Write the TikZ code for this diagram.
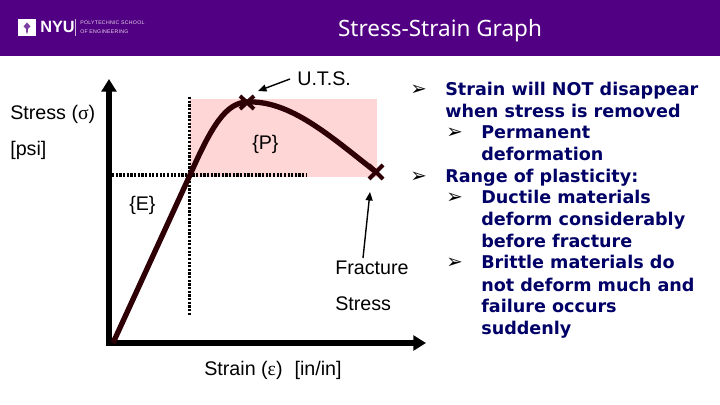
\documentclass[tikz,border=0pt]{standalone}
\usepackage{fontspec}
\setmainfont{Liberation Sans}
\newfontfamily\titlefont{Noto Sans}
\newfontfamily\bodyfont{DejaVu Sans}
\newfontfamily\greekfont{Liberation Serif}
\newfontfamily\logofont[LetterSpace=5]{Liberation Sans}
\usetikzlibrary{arrows.meta}
\definecolor{headpurple}{HTML}{520083}
\definecolor{plasticpink}{HTML}{FFD6D6}
\definecolor{curvebrown}{HTML}{2E0006}
\definecolor{bodynavy}{HTML}{000066}
\tikzset{
  lbl/.style={anchor=base west,inner sep=0pt,font=\fontsize{14}{16}\selectfont},
  bul/.style={anchor=base west,inner sep=0pt,font=\bodyfont\fontsize{14}{16}\selectfont},
  txt/.style={anchor=base west,inner sep=0pt,text=bodynavy,font=\bodyfont\bfseries\fontsize{12.5}{15}\selectfont},
  axis/.style={line width=4.2pt,-{Triangle[length=9pt,width=10.5pt]}},
  guide/.style={line width=2.2pt,dash pattern=on 1.6pt off 1pt},
  xmark/.style={line width=2.8pt,curvebrown},
  pointer/.style={line width=1pt,-{Triangle[length=6pt,width=5pt]}}
}
\begin{document}
\begin{tikzpicture}[x=0.025cm,y=-0.025cm]
\useasboundingbox (0,0) rectangle (720,405);
\fill[headpurple] (0,0) rectangle (720,56);
% logo
\fill[white] (18,19) rectangle (36,36.5);
\fill[headpurple!75] (27,22.5)--(30.5,26.5)--(28,29)--(27.6,33.5)--(26.4,33.5)--(26,29)--(23.5,26.5)--cycle;
\node[anchor=base west,inner sep=0pt,text=white,font=\bfseries\fontsize{11.6}{15}\selectfont] (nyu) at (40,33) {NYU};
\coordinate (divtop) at (75.5,19);
\coordinate (divbot) at (75.5,36.5);
\draw[white!70!headpurple,line width=0.5pt] (divtop)--(divbot);
\node[anchor=west,inner sep=0pt,align=left,text=white!85!headpurple,font=\logofont\fontsize{3.7}{6.2}\selectfont] (poly) at (80,27.5) {POLYTECHNIC SCHOOL\\OF ENGINEERING};
\node[anchor=base,inner sep=0pt,text=white,font=\titlefont\fontsize{16}{18}\selectfont] (title) at (440,37) {Stress-Strain Graph};

% plastic range
\fill[plasticpink] (190,99) rectangle (377,177);

% axes
\coordinate (origin) at (109,345);
\coordinate (ytip) at (109,79);
\coordinate (xtip) at (426,343);
\coordinate (xstart) at (106,343);
\draw[axis] (xstart)--(xtip);
\draw[axis] (origin)--(ytip);

% yield lines
\coordinate (vtop) at (189.5,97);
\coordinate (vbot) at (189.5,315);
\coordinate (hleft) at (112,175);
\coordinate (hright) at (306,175);
\draw[guide] (vtop)--(vbot);
\draw[guide] (hleft)--(hright);

% curve
\coordinate (start) at (113,343);
\coordinate (yield) at (190,175);
\coordinate (uts) at (247,102);
\coordinate (frac) at (376,172);
\draw[curvebrown,line width=3.8pt] (start)--(yield) .. controls (212,125) and (226,103) .. (uts)
 .. controls (290,100) and (330,136) .. (frac);
\draw[xmark] (240,96)--(254,109) (254,96)--(240,109);
\draw[xmark] (369,165)--(383,179) (383,165)--(369,179);

% labels
\node[lbl] (utslbl) at (297,86) {U.T.S.};
\node[lbl] (stress) at (10,120) {Stress ({\greekfont σ})};
\node[lbl] (psi) at (10,156) {[psi]};
\node[lbl] (plab) at (252,150) {\{P\}};
\node[lbl] (elab) at (129,211) {\{E\}};
\node[lbl] (fraclbl) at (335,274) {Fracture};
\node[lbl] (stresslbl) at (335,310) {Stress};
\node[lbl] (strain) at (204,375) {Strain ({\greekfont ε})\, \,[in/in]};
\coordinate (utsfrom) at (290,79);
\coordinate (utsto) at (258,91);
\coordinate (fracfrom) at (363,258);
\coordinate (fracto) at (370,192);
\draw[pointer] (utsfrom)--(utsto);
\draw[pointer] (fracfrom)--(fracto);

% bullets
\foreach \n/\x/\y in {a/410/96,b/446/139,c/410/183,d/446/204,e/446/269}
  \node[bul] (bul\n) at (\x,\y) {➢};
% text
\foreach \n/\x/\y/\t in {a/445/96/Strain will NOT disappear,b/445/118/when stress is removed,
 c/481/139/Permanent,d/481/161/deformation,e/445/183/Range of plasticity:,
 f/481/204/Ductile materials,g/481/226/deform considerably,h/481/247/before fracture,
 i/481/269/Brittle materials do,j/481/291/not deform much and,k/481/312/failure occurs,l/481/334/suddenly}
  \node[txt] (txt\n) at (\x,\y) {\t};
\end{tikzpicture}
\end{document}
